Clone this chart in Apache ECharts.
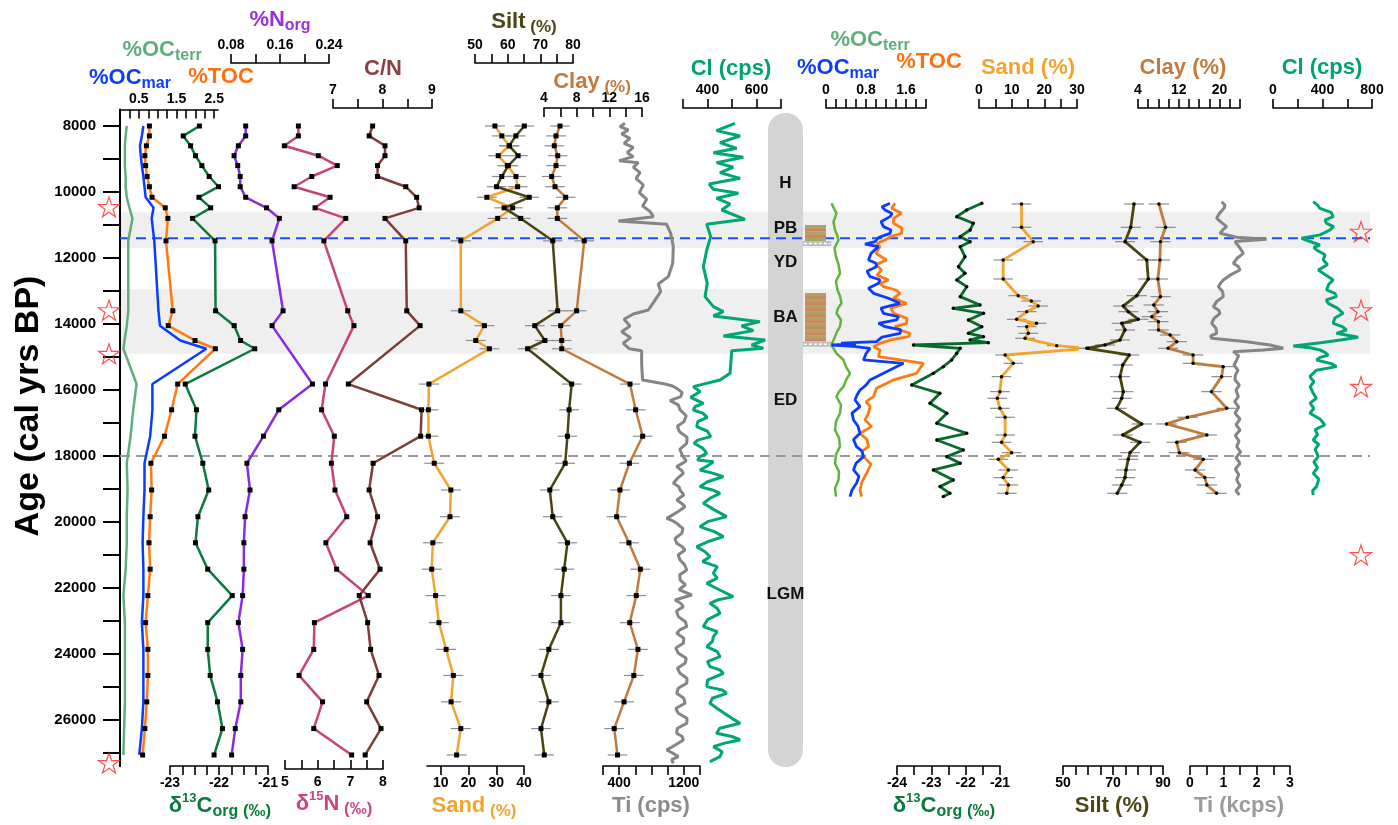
<!DOCTYPE html>
<html>
<head>
<meta charset="utf-8">
<script src="https://cdn.jsdelivr.net/npm/echarts@6/dist/echarts.min.js"></script>
<style>
  html, body { margin: 0; padding: 0; background: #ffffff; }
  #chart { width: 1398px; height: 825px; }
</style>
</head>
<body>
<div id="chart"></div>
<script>
// ---------------- age scale ----------------
const AGE_MIN = 7500, AGE_MAX = 27400;
const ageTicks = [8000, 9000, 10000, 11000, 12000, 13000, 14000, 15000, 16000, 17000, 18000, 19000, 20000, 21000, 22000, 23000, 24000, 25000, 26000, 27000];
const ageLabels = [8000, 10000, 12000, 14000, 16000, 18000, 20000, 22000, 24000, 26000];

// ---------------- core A (left): discrete samples ----------------
const leftAges = [8000, 8300, 8600, 8900, 9200, 9530, 9840, 10160, 10480, 10800, 11480, 13600, 14050, 14500, 14750, 15820, 16600, 17400, 18220, 19030, 19840, 20630, 21430, 22230, 23050, 23860, 24650, 25450, 26260, 27060];
const tocL    = [0.78, 0.78, 0.70, 0.66, 0.68, 0.72, 0.78, 0.85, 1.20, 1.27, 1.22, 1.40, 1.28, 1.99, 2.53, 1.53, 1.37, 1.18, 0.82, 0.84, 0.80, 0.77, 0.80, 0.74, 0.68, 0.74, 0.74, 0.71, 0.66, 0.60];
const ocMarL  = [0.62, 0.58, 0.53, 0.55, 0.58, 0.62, 0.65, 0.68, 0.89, 0.84, 0.91, 1.02, 1.06, 1.60, 2.29, 0.86, 0.86, 0.80, 0.65, 0.65, 0.62, 0.60, 0.62, 0.62, 0.58, 0.62, 0.62, 0.62, 0.58, 0.51];
const ocTerrL = [0.18, 0.15, 0.13, 0.13, 0.13, 0.15, 0.15, 0.18, 0.25, 0.33, 0.22, 0.22, 0.18, 0.12, 0.09, 0.44, 0.35, 0.28, 0.18, 0.20, 0.18, 0.18, 0.15, 0.09, 0.13, 0.13, 0.13, 0.13, 0.11, 0.09];
const d13cL   = [-22.40, -22.73, -22.58, -22.48, -22.35, -22.20, -22.01, -22.41, -22.17, -22.54, -22.08, -22.07, -21.69, -21.56, -21.27, -22.69, -22.46, -22.49, -22.33, -22.21, -22.43, -22.48, -22.23, -21.73, -22.23, -22.23, -22.18, -22.03, -21.93, -22.10];
const sandL   = [29.5, 32.0, 34.7, 30.7, 34.0, 37.1, 37.7, 26.6, 35.9, 30.5, 17.2, 17.2, 25.7, 22.6, 27.5, 5.7, 5.5, 5.5, 7.6, 13.6, 13.3, 7.1, 6.7, 8.1, 9.3, 11.9, 14.5, 13.7, 17.2, 15.7];
const siltL   = [65.1, 62.5, 60.5, 63.2, 60.2, 58.2, 56.6, 66.6, 58.9, 64.0, 73.8, 75.3, 68.3, 71.4, 66.1, 79.6, 78.8, 78.3, 77.6, 72.9, 73.8, 78.3, 77.3, 76.3, 76.3, 72.6, 70.2, 72.6, 70.2, 71.2];
const clayL   = [5.96, 5.47, 5.26, 5.68, 5.47, 4.94, 5.35, 6.66, 5.63, 5.63, 8.93, 8.00, 6.04, 6.17, 6.17, 14.53, 15.22, 16.08, 14.45, 13.3, 12.9, 14.4, 15.8, 15.3, 14.5, 15.5, 15.0, 13.8, 12.6, 13.0];
const sandErrL = 3.6, siltErrL = 3.0, clayErrL = 1.2;

const isoAges = [8000, 8300, 8600, 8900, 9200, 9530, 9840, 10160, 10480, 10800, 11480, 13600, 14050, 15820, 16600, 17400, 18220, 19030, 19840, 20630, 21430, 22230, 23050, 23860, 24650, 25450, 26260, 27060];
const d15nL = [5.41, 5.41, 4.98, 6.02, 6.60, 5.82, 5.28, 6.38, 5.92, 6.86, 6.19, 6.92, 7.11, 6.24, 6.12, 6.51, 6.42, 6.53, 6.89, 6.25, 6.58, 7.55, 5.90, 5.88, 5.43, 6.15, 5.88, 7.04];
const norgL = [0.104, 0.104, 0.092, 0.085, 0.091, 0.095, 0.095, 0.104, 0.138, 0.159, 0.147, 0.165, 0.147, 0.213, 0.158, 0.133, 0.106, 0.111, 0.103, 0.101, 0.101, 0.099, 0.092, 0.099, 0.096, 0.096, 0.087, 0.081];
const cnL   = [7.80, 7.73, 8.05, 8.05, 7.90, 7.90, 8.47, 8.69, 8.74, 8.05, 8.47, 8.49, 8.76, 7.31, 8.79, 8.77, 7.81, 7.73, 7.90, 7.75, 7.95, 7.53, 7.70, 7.76, 7.93, 7.68, 7.97, 7.65];

// ---------------- core A: XRF scans [age, counts] ----------------
const tiL = [[7920,472],[8020,410],[8121,513],[8242,431],[8374,534],[8525,460],[8646,575],[8808,500],[8929,575],[9050,400],[9111,638],[9252,575],[9414,658],[9586,609],[9788,699],[10020,650],[10222,741],[10424,691],[10596,782],[10747,823],[10879,390],[10980,988],[11252,1037],[11656,1070],[12161,1062],[12565,1008],[12787,885],[13020,913],[13353,823],[13575,761],[13696,575],[13858,460],[14060,534],[14232,431],[14414,542],[14585,451],[14747,525],[14808,678],[15192,678],[15697,689],[15818,967],[15880,1060],[15949,1112],[16080,1180],[16201,1161],[16322,1029],[16450,1130],[16605,1153],[16780,1230],[16959,1202],[17100,1120],[17262,1145],[17430,1240],[17615,1236],[17800,1150],[18000,1186],[18150,1230],[18323,1112],[18430,1170],[18525,1194],[18680,1120],[18828,1070],[18930,1140],[19030,1153],[19180,1200],[19333,1112],[19430,1170],[19535,1215],[19700,1120],[19889,988],[19960,1060],[20040,1112],[20200,1190],[20343,1174],[20500,1090],[20646,1112],[20750,1180],[20848,1215],[21000,1130],[21151,1153],[21300,1210],[21454,1236],[21600,1150],[21757,1153],[21900,1220],[22050,1140],[22212,1298],[22363,1091],[22460,1160],[22565,1194],[22700,1110],[22868,1132],[23020,1220],[23171,1236],[23270,1150],[23373,1112],[23520,1200],[23676,1194],[23820,1100],[23979,1132],[24130,1230],[24282,1215],[24430,1120],[24585,1153],[24740,1240],[24888,1236],[25040,1130],[25191,1112],[25340,1200],[25494,1215],[25650,1100],[25797,1132],[25950,1240],[26100,1236],[26250,1120],[26403,1112],[26500,1180],[26605,1194],[26750,1100],[26908,988],[27000,1060],[27110,1132],[27200,1050],[27312,1070]];
const clL = [[7920,512],[8141,437],[8303,533],[8505,451],[8677,519],[8808,424],[8949,546],[9111,437],[9252,505],[9414,451],[9586,533],[9757,407],[9919,424],[10040,526],[10192,437],[10363,492],[10545,458],[10828,553],[10980,397],[11353,413],[11757,397],[12262,383],[12767,399],[13171,390],[13474,424],[13626,465],[13757,424],[13929,614],[14060,539],[14201,587],[14363,465],[14484,635],[14636,580],[14737,628],[14808,499],[15495,492],[15697,451],[15899,342],[16050,370],[16222,331],[16403,383],[16500,350],[16605,342],[16700,380],[16827,399],[16960,360],[17110,356],[17250,400],[17413,413],[17520,360],[17615,345],[17760,380],[17918,397],[18020,370],[18120,359],[18172,424],[18300,400],[18424,369],[18520,420],[18626,465],[18780,400],[18929,369],[19030,420],[19131,451],[19280,410],[19434,383],[19640,430],[19838,478],[19990,400],[20141,369],[20300,430],[20444,465],[20600,400],[20747,356],[20900,390],[21050,410],[21200,380],[21350,440],[21555,424],[21700,440],[21858,397],[22060,450],[22262,505],[22364,440],[22464,410],[22620,440],[22767,451],[22960,400],[23171,383],[23320,440],[23474,424],[23620,420],[23777,397],[23930,440],[24080,451],[24230,400],[24383,410],[24480,450],[24585,465],[24790,400],[24989,397],[25090,460],[25191,478],[25340,420],[25494,410],[25650,440],[25800,470],[25950,500],[26100,533],[26250,450],[26403,437],[26500,500],[26605,533],[26700,470],[26807,424],[26960,460],[27110,451],[27262,410]];

// ---------------- core B (right): [age, value] ----------------
const ocTerrR = [[10343,0.11],[10500,0.16],[10646,0.21],[10900,0.15],[11151,0.18],[11300,0.22],[11454,0.25],[11700,0.17],[11959,0.20],[12200,0.25],[12464,0.28],[12700,0.20],[12969,0.23],[13150,0.28],[13373,0.31],[13520,0.24],[13676,0.21],[13880,0.30],[14080,0.28],[14230,0.22],[14383,0.18],[14636,0.11],[14888,0.21],[15090,0.35],[15300,0.40],[15494,0.48],[15700,0.40],[15898,0.35],[16050,0.26],[16201,0.21],[16450,0.30],[16706,0.28],[16950,0.20],[17211,0.18],[17450,0.26],[17716,0.28],[17950,0.20],[18221,0.18],[18480,0.26],[18726,0.25],[18980,0.18],[19231,0.20]];
const ocMarR = [[10343,1.28],[10450,1.12],[10545,1.18],[10650,1.32],[10747,1.28],[10900,1.10],[11050,1.15],[11150,1.30],[11252,1.28],[11380,1.05],[11505,0.98],[11580,0.78],[11656,1.05],[11860,0.90],[12060,0.85],[12160,1.00],[12262,1.01],[12400,0.82],[12565,0.88],[12660,1.08],[12767,1.05],[12920,0.85],[13070,0.95],[13220,1.25],[13373,1.48],[13520,1.10],[13676,1.15],[13780,1.45],[13878,1.41],[13980,1.05],[14080,1.18],[14180,1.50],[14282,1.48],[14400,1.12],[14535,1.01],[14580,0.30],[14610,0.60],[14636,0.11],[14680,0.55],[14737,0.88],[14900,0.80],[15090,0.75],[15191,1.55],[15393,1.28],[15696,0.88],[15850,0.80],[15999,0.68],[16150,0.62],[16302,0.58],[16504,0.68],[16700,0.52],[16908,0.55],[17100,0.64],[17312,0.68],[17500,0.55],[17716,0.61],[17850,0.72],[18019,0.75],[18220,0.60],[18423,0.55],[18620,0.66],[18827,0.61],[19030,0.52],[19231,0.48]];
const tocR = [[10343,1.38],[10495,1.31],[10646,1.51],[10800,1.35],[10949,1.35],[11100,1.52],[11252,1.51],[11350,1.30],[11454,1.18],[11560,1.02],[11656,1.08],[11860,1.00],[12060,1.21],[12200,1.00],[12363,1.11],[12520,1.02],[12666,1.25],[12770,1.08],[12868,1.15],[12970,1.40],[13070,1.48],[13220,1.35],[13373,1.61],[13520,1.30],[13676,1.35],[13830,1.62],[13979,1.61],[14080,1.38],[14181,1.48],[14280,1.68],[14383,1.65],[14480,1.30],[14585,1.08],[14686,0.95],[14787,1.08],[14989,1.05],[15191,1.95],[15494,1.81],[15696,1.35],[15949,1.01],[16201,0.95],[16350,0.80],[16504,0.88],[16706,0.85],[16900,0.78],[17110,0.91],[17312,0.68],[17500,0.82],[17716,0.85],[17850,0.72],[18019,0.75],[18250,0.90],[18524,0.81],[18780,0.72],[19029,0.68],[19231,0.71]];
const d13cR = [[10343,-21.53],[10545,-21.97],[10747,-22.26],[10949,-21.78],[11151,-21.87],[11353,-22.16],[11505,-21.87],[11656,-22.16],[11959,-22.02],[12262,-22.21],[12464,-22.02],[12666,-22.26],[12868,-21.97],[13171,-22.16],[13424,-21.58],[13525,-22.36],[13676,-21.48],[13878,-21.92],[14080,-21.53],[14282,-21.92],[14383,-21.48],[14484,-21.87],[14565,-21.34],[14636,-23.52],[14737,-22.16],[14888,-22.26],[15090,-22.41],[15292,-22.65],[15494,-22.94],[15848,-23.57],[16100,-22.75],[16403,-23.04],[16706,-22.55],[17009,-22.84],[17312,-21.97],[17514,-22.84],[17817,-22.07],[18019,-22.55],[18221,-22.16],[18423,-22.94],[18726,-22.36],[18928,-22.75],[19130,-22.46],[19231,-22.65]];
const sandR = [[10363,13.0],[11070,13.0],[11505,16.6],[12060,7.4],[12636,7.4],[13141,12.0],[13302,16.0],[13454,18.1],[13626,14.6],[13858,11.5],[13979,17.6],[14080,14.6],[14282,15.1],[14434,14.1],[14656,23.8],[14737,33.4],[14939,8.0],[15191,10.5],[15595,6.9],[16050,6.4],[16252,5.6],[16555,6.4],[16827,8.0],[17363,8.0],[17585,6.9],[17898,10.0],[18100,5.9],[18423,9.0],[18655,7.4],[18878,9.0],[19130,8.5]];
const siltR = [[10363,78.4],[11070,77.1],[11505,74.8],[12060,83.5],[12636,84.1],[13141,79.5],[13454,74.1],[13626,76.1],[13858,80.1],[13979,73.5],[14181,74.8],[14484,72.8],[14636,66.8],[14737,59.5],[14939,76.5],[15242,73.9],[15595,72.8],[16050,74.1],[16252,73.5],[16555,71.5],[17029,81.5],[17363,73.9],[17585,80.8],[17898,76.8],[18100,76.1],[18423,75.2],[18655,74.8],[18878,73.5],[19130,71.7]];
const clayR = [[10363,8.1],[11070,9.4],[11505,8.4],[12060,8.3],[12636,7.9],[13171,8.4],[13424,7.1],[13626,7.9],[13777,6.7],[13929,8.0],[14181,8.0],[14333,10.3],[14535,11.6],[14737,9.9],[14939,14.8],[15191,14.8],[15292,20.7],[15595,20.4],[16050,18.4],[16555,21.4],[16827,13.7],[17029,9.6],[17363,17.5],[17585,11.6],[17898,12.1],[18100,16.8],[18423,15.2],[18655,17.1],[18878,17.5],[19130,19.4]];
const sandErrR = 3.0, siltErrR = 4.0, clayErrR = 2.0;
const tiR = [[10293,0.95],[10400,1.05],[10495,1.02],[10650,0.88],[10798,0.80],[10930,0.95],[11050,1.10],[11150,0.98],[11252,0.90],[11373,1.40],[11434,2.30],[11500,1.35],[11555,1.40],[11700,1.50],[11858,1.60],[12000,1.42],[12161,1.30],[12260,1.45],[12363,1.50],[12520,1.20],[12666,1.00],[12760,0.92],[12868,0.85],[13020,0.98],[13171,1.00],[13320,0.80],[13474,0.70],[13580,0.86],[13676,0.90],[13830,0.72],[13979,0.65],[14130,0.78],[14282,0.80],[14360,0.62],[14434,0.65],[14535,1.70],[14636,2.40],[14737,2.80],[14790,2.20],[14838,1.30],[14960,1.46],[15090,1.40],[15250,1.32],[15400,1.44],[15550,1.36],[15696,1.35],[15850,1.48],[16000,1.38],[16201,1.45],[16350,1.34],[16520,1.46],[16706,1.35],[16880,1.50],[17050,1.38],[17211,1.50],[17380,1.36],[17550,1.47],[17716,1.40],[17880,1.52],[18050,1.38],[18221,1.50],[18400,1.36],[18560,1.46],[18726,1.40],[18900,1.50],[19050,1.38],[19181,1.48]];
const clR = [[10293,325],[10400,360],[10495,379],[10620,470],[10747,486],[10849,420],[10949,433],[11050,490],[11151,460],[11300,380],[11404,231],[11500,300],[11606,379],[11680,330],[11757,352],[11900,420],[12060,406],[12200,440],[12363,366],[12500,420],[12666,486],[12800,450],[12969,433],[13070,500],[13171,513],[13270,430],[13373,446],[13520,520],[13676,567],[13820,500],[13979,486],[14080,560],[14181,594],[14282,513],[14340,600],[14403,688],[14480,560],[14560,400],[14666,164],[14720,300],[14787,379],[14860,420],[14939,446],[15010,380],[15090,352],[15200,470],[15292,513],[15400,350],[15595,298],[15750,330],[15900,300],[16100,325],[16250,350],[16400,300],[16560,330],[16706,298],[16880,380],[17060,419],[17200,340],[17350,360],[17514,325],[17650,370],[17800,340],[18019,366],[18180,330],[18350,360],[18524,325],[18700,370],[18928,352],[19050,320],[19181,325]];

// ---------------- climate stages and markers ----------------
const phaseNames = ['H', 'PB', 'YD', 'BA', 'ED', 'LGM'];
const phaseAges = [9730, 11090, 12120, 13790, 16300, 22180];
const timelineSpan = [7606, 27424];
const shadedIntervals = [[10600, 11700], [12950, 14900]];
const boundaryAges = [11400, 18000];
const laminatedIntervals = [[11000, 11480], [13060, 14520]];
const laminaBaseAges = [11560, 14610];
const datedAgesL = [10450, 13580, 14900, 27300];
const datedAgesR = [11200, 13580, 15900, 21000];

// ---------------- axis ticks / labels ----------------
const ocTicksL = [0, 0.25, 0.5, 0.75, 1, 1.25, 1.5, 1.75, 2, 2.25, 2.5], ocLabelsL = [0.5, 1.5, 2.5];
const norgTicks = [0.08, 0.12, 0.16, 0.2, 0.24], norgLabels = [0.08, 0.16, 0.24];
const cnTicks = [7, 7.5, 8, 8.5, 9], cnLabels = [7, 8, 9];
const siltTicksL = [50, 55, 60, 65, 70, 75, 80], siltLabelsL = [50, 60, 70, 80];
const clayTicksL = [4, 6, 8, 10, 12, 14, 16], clayLabelsL = [4, 8, 12, 16];
const clTicksL = [300, 400, 500, 600, 700], clLabelsL = [400, 600];
const d13cTicksL = [-23, -22.75, -22.5, -22.25, -22, -21.75, -21.5, -21.25, -21], d13cLabelsL = [-23, -22, -21];
const d15nTicks = [5, 5.5, 6, 6.5, 7, 7.5, 8], d15nLabels = [5, 6, 7, 8];
const sandTicksL = [10, 20, 30, 40], sandLabelsL = [10, 20, 30, 40];
const tiTicksL = [200, 400, 600, 800, 1000, 1200, 1400], tiLabelsL = [400, 1200];
const ocTicksR = [0, 0.2, 0.4, 0.6, 0.8, 1, 1.2, 1.4, 1.6, 1.8, 2], ocLabelsR = [0, 0.8, 1.6];
const sandTicksR = [0, 5, 10, 15, 20, 25, 30], sandLabelsR = [0, 10, 20, 30];
const clayTicksR = [4, 6, 8, 10, 12, 14, 16, 18, 20, 22, 24], clayLabelsR = [4, 12, 20];
const clTicksR = [0, 200, 400, 600, 800], clLabelsR = [0, 400, 800];
const d13cTicksR = [-24, -23.5, -23, -22.5, -22, -21.5, -21], d13cLabelsR = [-24, -23, -22, -21];
const siltTicksR = [50, 55, 60, 65, 70, 75, 80, 85, 90], siltLabelsR = [50, 70, 90];
const tiTicksR = [0, 0.5, 1, 1.5, 2, 2.5, 3], tiLabelsR = [0, 1, 2, 3];

// ---------------- layout helpers ----------------
const FONT = '"Liberation Sans", Arial, Helvetica, sans-serif';
const TOP = 109.5, HEIGHT = 656.7, BOT = TOP + HEIGHT;
const grids = [], xAxes = [], yAxes = [], series = [];

function addGrid(left, right) {
  grids.push({ left: left, top: TOP, width: right - left, height: HEIGHT });
  const gi = grids.length - 1;
  yAxes.push({ gridIndex: gi, type: 'value', inverse: true, min: AGE_MIN, max: AGE_MAX, show: false });
  return gi;
}
function addHidden(left, right) {
  const gi = addGrid(left, right);
  xAxes.push({ gridIndex: gi, type: 'value', min: 0, max: 1, show: false });
  return gi;
}
function addAxis(p) {
  const gi = addGrid(p.left, p.right);
  const isTop = p.side === 'top';
  const offset = isTop ? TOP - p.lineY : p.lineY - BOT;
  const inside = isTop ? !p.tickUp : p.tickUp;
  xAxes.push({
    gridIndex: gi, type: 'value', position: p.side, offset: offset, min: p.min, max: p.max,
    axisLine: { show: true, onZero: false, lineStyle: { color: '#000', width: 1.6 } },
    axisTick: { show: true, inside: inside, length: 9, customValues: p.ticks, lineStyle: { color: '#000', width: 1.6 } },
    axisLabel: { show: true, customValues: p.labels, margin: p.margin, color: '#000', fontSize: 14, fontWeight: 'bold', fontFamily: FONT, formatter: v => String(v) },
    splitLine: { show: false }
  });
  return gi;
}
const asPairs = (vals, ages) => ages.map((a, i) => [vals[i], a]);
const flip = arr => arr.map(d => [d[1], d[0]]);

function lineS(gi, data, color, width, marker, z) {
  series.push({
    type: 'line', xAxisIndex: gi, yAxisIndex: gi, data: data,
    symbol: marker || 'none', symbolSize: marker === 'rect' ? 5 : 3.5, showSymbol: !!marker,
    itemStyle: { color: '#000' }, lineStyle: { color: color, width: width },
    z: z || 3, silent: true, clip: false, animation: false
  });
}
function errS(gi, data, err) {
  series.push({
    type: 'custom', xAxisIndex: gi, yAxisIndex: gi, silent: true, clip: false, z: 2,
    data: data.map(d => [d[0], d[1], err]), encode: { x: 0, y: 1 },
    renderItem: (params, api) => {
      const v = api.value(0), a = api.value(1), e = api.value(2);
      const p1 = api.coord([v - e, a]), p2 = api.coord([v + e, a]);
      return { type: 'line', shape: { x1: p1[0], y1: p1[1], x2: p2[0], y2: p2[1] }, style: { stroke: '#8d8d8d', lineWidth: 1.2 } };
    }
  });
}

// ---------------- background: shaded stages, boundaries ----------------
const gBg = addHidden(120, 1370);
series.push({
  type: 'custom', xAxisIndex: gBg, yAxisIndex: gBg, silent: true, z: 0, data: shadedIntervals,
  renderItem: (params, api) => {
    const a = api.coord([0, api.value(0)]), b = api.coord([1, api.value(1)]);
    return { type: 'rect', shape: { x: a[0], y: a[1], width: b[0] - a[0], height: b[1] - a[1] }, style: { fill: '#efefef' } };
  }
});
const boundaryColors = ['#1f4ef5', '#9a9a9a'];
series.push({
  type: 'custom', xAxisIndex: gBg, yAxisIndex: gBg, silent: true, z: 2.5, data: boundaryAges.map((a, i) => [a, i]),
  renderItem: (params, api) => {
    const a = api.coord([0, api.value(0)]), b = api.coord([1, api.value(0)]);
    return { type: 'line', shape: { x1: a[0], y1: a[1], x2: b[0], y2: b[1] }, style: { stroke: boundaryColors[api.value(1)], lineWidth: 2, lineDash: [10, 6] } };
  }
});

// ---------------- core A panels ----------------
const gOcL = addAxis({ left: 120, right: 218, min: 0, max: 2.6, side: 'top', lineY: 109.5, tickUp: false, ticks: ocTicksL, labels: ocLabelsL, margin: 3 });
Object.assign(yAxes[gOcL], {
  show: true, position: 'left',
  axisLine: { show: true, onZero: false, lineStyle: { color: '#000', width: 2 } },
  axisTick: { show: true, inside: false, length: 17, customValues: ageTicks, lineStyle: { color: '#000', width: 2 } },
  axisLabel: { show: true, customValues: ageLabels, margin: 24, color: '#000', fontSize: 15, fontWeight: 'bold', fontFamily: FONT, formatter: v => String(v) },
  splitLine: { show: false }
});
const gNorg = addAxis({ left: 231, right: 329, min: 0.08, max: 0.24, side: 'top', lineY: 63, tickUp: true, ticks: norgTicks, labels: norgLabels, margin: 11 });
const gCn = addAxis({ left: 333, right: 432, min: 7, max: 9, side: 'top', lineY: 108, tickUp: true, ticks: cnTicks, labels: cnLabels, margin: 11 });
const gD13L = addAxis({ left: 170, right: 268, min: -23, max: -21, side: 'bottom', lineY: 766, tickUp: false, ticks: d13cTicksL, labels: d13cLabelsL, margin: 10 });
const gD15 = addAxis({ left: 285, right: 383, min: 5, max: 8, side: 'bottom', lineY: 769, tickUp: true, ticks: d15nTicks, labels: d15nLabels, margin: 6 });
const gSandL = addAxis({ left: 427, right: 524, min: 5, max: 40, side: 'bottom', lineY: 766, tickUp: false, ticks: sandTicksL, labels: sandLabelsL, margin: 10 });
const gSiltL = addAxis({ left: 475, right: 573, min: 50, max: 80, side: 'top', lineY: 63, tickUp: true, ticks: siltTicksL, labels: siltLabelsL, margin: 11 });
const gClayL = addAxis({ left: 544, right: 642, min: 4, max: 16, side: 'top', lineY: 108, tickUp: false, ticks: clayTicksL, labels: clayLabelsL, margin: 3 });
const gTiL = addAxis({ left: 603, right: 700, min: 200, max: 1400, side: 'bottom', lineY: 766, tickUp: false, ticks: tiTicksL, labels: tiLabelsL, margin: 10 });
const gClL = addAxis({ left: 683, right: 781, min: 300, max: 700, side: 'top', lineY: 108, tickUp: true, ticks: clTicksL, labels: clLabelsL, margin: 11 });

lineS(gOcL, asPairs(ocTerrL, leftAges), '#62ad7c', 2.5);
lineS(gOcL, asPairs(ocMarL, leftAges), '#0a3cff', 2.5);
lineS(gOcL, asPairs(tocL, leftAges), '#ff7a10', 2.5, 'rect');
lineS(gD13L, asPairs(d13cL, leftAges), '#0b7a3c', 2.5, 'rect');
lineS(gNorg, asPairs(norgL, isoAges), '#8a2be2', 2.5, 'rect');
lineS(gD15, asPairs(d15nL, isoAges), '#c8427c', 2.5, 'rect');
lineS(gCn, asPairs(cnL, isoAges), '#7f3d38', 2.5, 'rect');
errS(gSandL, asPairs(sandL, leftAges), sandErrL);
errS(gSiltL, asPairs(siltL, leftAges), siltErrL);
errS(gClayL, asPairs(clayL, leftAges), clayErrL);
lineS(gSandL, asPairs(sandL, leftAges), '#f0a52e', 2.5, 'rect');
lineS(gSiltL, asPairs(siltL, leftAges), '#4a4510', 2.5, 'rect');
lineS(gClayL, asPairs(clayL, leftAges), '#c07a3c', 2.5, 'rect');
lineS(gTiL, flip(tiL), '#858585', 3);
lineS(gClL, flip(clL), '#00a676', 3);

// ---------------- stage bar ----------------
const gBar = addHidden(768, 803);
series.push({
  type: 'custom', xAxisIndex: gBar, yAxisIndex: gBar, silent: true, z: 1, data: [timelineSpan],
  renderItem: (params, api) => {
    const a = api.coord([0, api.value(0)]), b = api.coord([1, api.value(1)]);
    return { type: 'rect', shape: { x: a[0], y: a[1], width: b[0] - a[0], height: b[1] - a[1], r: 17 }, style: { fill: '#d4d4d4' } };
  }
});
series.push({
  type: 'custom', xAxisIndex: gBar, yAxisIndex: gBar, silent: true, z: 4, data: phaseAges.map((a, i) => [a, i]),
  renderItem: (params, api) => {
    const p = api.coord([0.5, api.value(0)]);
    return { type: 'text', x: p[0], y: p[1], style: { text: phaseNames[api.value(1)], fill: '#111', font: 'bold 17px ' + FONT, textAlign: 'center', textVerticalAlign: 'middle' } };
  }
});

// ---------------- laminated intervals of core B ----------------
const gLam = addHidden(805, 826);
series.push({
  type: 'custom', xAxisIndex: gLam, yAxisIndex: gLam, silent: true, z: 3, data: laminatedIntervals,
  renderItem: (params, api) => {
    const a = api.coord([0, api.value(0)]), b = api.coord([1, api.value(1)]);
    const kids = [];
    const h = b[1] - a[1];
    const n = Math.max(2, Math.round(h / 3));
    for (let k = 0; k < n; k++) {
      kids.push({ type: 'rect', shape: { x: a[0], y: a[1] + k * h / n, width: b[0] - a[0], height: h / n + 0.3 }, style: { fill: k % 2 ? '#c88a5a' : '#a9a56a' } });
    }
    return { type: 'group', children: kids };
  }
});
series.push({
  type: 'custom', xAxisIndex: gLam, yAxisIndex: gLam, silent: true, z: 3, data: laminaBaseAges.map(a => [a]),
  renderItem: (params, api) => {
    const a = api.coord([-0.1, api.value(0)]), b = api.coord([1.25, api.value(0)]);
    return { type: 'group', children: [
      { type: 'rect', shape: { x: a[0], y: a[1] - 2.5, width: b[0] - a[0], height: 5 }, style: { fill: '#bdbdbd' } },
      { type: 'line', shape: { x1: a[0] + 1, y1: a[1], x2: b[0] - 1, y2: b[1] }, style: { stroke: '#ffffff', lineWidth: 1.5, lineDash: [3, 2] } }
    ] };
  }
});

// ---------------- core B panels ----------------
const gOcR = addAxis({ left: 826, right: 926, min: 0, max: 2, side: 'top', lineY: 108, tickUp: true, ticks: ocTicksR, labels: ocLabelsR, margin: 11 });
const gD13R = addAxis({ left: 897, right: 1000, min: -24, max: -21, side: 'bottom', lineY: 766, tickUp: false, ticks: d13cTicksR, labels: d13cLabelsR, margin: 10 });
const gSandR = addAxis({ left: 979, right: 1077, min: 0, max: 30, side: 'top', lineY: 108, tickUp: true, ticks: sandTicksR, labels: sandLabelsR, margin: 11 });
const gSiltR = addAxis({ left: 1063, right: 1163, min: 50, max: 90, side: 'bottom', lineY: 766, tickUp: false, ticks: siltTicksR, labels: siltLabelsR, margin: 10 });
const gClayR = addAxis({ left: 1138, right: 1240, min: 4, max: 24, side: 'top', lineY: 108, tickUp: true, ticks: clayTicksR, labels: clayLabelsR, margin: 11 });
const gTiR = addAxis({ left: 1190, right: 1290, min: 0, max: 3, side: 'bottom', lineY: 766, tickUp: false, ticks: tiTicksR, labels: tiLabelsR, margin: 10 });
const gClR = addAxis({ left: 1273, right: 1372, min: 0, max: 800, side: 'top', lineY: 108, tickUp: true, ticks: clTicksR, labels: clLabelsR, margin: 11 });

lineS(gOcR, flip(ocTerrR), '#66b23e', 2.5);
lineS(gOcR, flip(tocR), '#ff7a10', 2.8);
lineS(gOcR, flip(ocMarR), '#0a3cff', 2.8);
lineS(gD13R, flip(d13cR), '#0a6a2c', 2.8, 'circle');
errS(gSandR, flip(sandR), sandErrR);
errS(gSiltR, flip(siltR), siltErrR);
errS(gClayR, flip(clayR), clayErrR);
lineS(gSandR, flip(sandR), '#f0a52e', 2.8, 'circle');
lineS(gSiltR, flip(siltR), '#4a4510', 2.8, 'circle');
lineS(gClayR, flip(clayR), '#c07a3c', 2.8, 'circle');
lineS(gTiR, flip(tiR), '#858585', 3);
lineS(gClR, flip(clR), '#00a676', 3);

// ---------------- dated levels ----------------
const STAR = 'path://M50,0 L61.2,34.5 L97.6,34.5 L68.2,55.9 L79.4,90.5 L50,69.1 L20.6,90.5 L31.8,55.9 L2.4,34.5 L38.8,34.5 Z';
function stars(left, right, ages) {
  const gi = addHidden(left, right);
  series.push({
    type: 'scatter', xAxisIndex: gi, yAxisIndex: gi, silent: true, z: 5, clip: false,
    data: ages.map(a => [0.5, a]), symbol: STAR, symbolSize: 21, symbolKeepAspect: true,
    itemStyle: { color: 'rgba(255,255,255,0)', borderColor: '#ff2424', borderWidth: 1.2 }
  });
}
stars(99, 119, datedAgesL);
stars(1351, 1371, datedAgesR);

// ---------------- titles ----------------
function title(cx, cy, color, tokens) {
  const base = { fontWeight: 'bold', fontFamily: FONT, fill: color, color: color };
  const rich = {
    big: Object.assign({ fontSize: 22, lineHeight: 28, verticalAlign: 'middle' }, base),
    sub: Object.assign({ fontSize: 16, lineHeight: 16, verticalAlign: 'bottom' }, base),
    sup: Object.assign({ fontSize: 13, lineHeight: 13, verticalAlign: 'top' }, base),
    unit: Object.assign({ fontSize: 17, lineHeight: 23, verticalAlign: 'bottom' }, base)
  };
  return {
    type: 'text', x: cx, y: cy, silent: true, z: 10,
    style: { text: tokens.map(t => '{' + t[1] + '|' + t[0] + '}').join(''), rich: rich, textAlign: 'center', textVerticalAlign: 'middle', fill: color }
  };
}
const graphics = [
  title(280, 20, '#9b30d9', [['%N', 'big'], ['org', 'sub']]),
  title(162, 50, '#5eae7a', [['%OC', 'big'], ['terr', 'sub']]),
  title(130, 78, '#0f3cf5', [['%OC', 'big'], ['mar', 'sub']]),
  title(221, 77, '#ff6f0f', [['%TOC', 'big']]),
  title(383, 69, '#8b3f3f', [['C/N', 'big']]),
  title(524, 22, '#4b4712', [['Silt', 'big'], [' (%)', 'unit']]),
  title(592, 82, '#c27b3c', [['Clay', 'big'], [' (%)', 'unit']]),
  title(731, 69, '#00a36f', [['Cl (cps)', 'big']]),
  title(220, 806, '#0a7a3a', [['δ', 'big'], ['13', 'sup'], ['C', 'big'], ['org', 'sub'], [' (‰)', 'unit']]),
  title(334, 804, '#cc4582', [['δ', 'big'], ['15', 'sup'], ['N', 'big'], [' (‰)', 'unit']]),
  title(474, 806, '#f0a52e', [['Sand', 'big'], [' (%)', 'unit']]),
  title(651, 806, '#8c8c8c', [['Ti (cps)', 'big']]),
  title(870, 40, '#5eae7a', [['%OC', 'big'], ['terr', 'sub']]),
  title(838, 68, '#0f3cf5', [['%OC', 'big'], ['mar', 'sub']]),
  title(929, 62, '#ff6f0f', [['%TOC', 'big']]),
  title(1028, 68, '#f0a52e', [['Sand (%)', 'big']]),
  title(1183, 68, '#c27b3c', [['Clay (%)', 'big']]),
  title(1322, 68, '#00a36f', [['Cl (cps)', 'big']]),
  title(944, 806, '#0a7a3a', [['δ', 'big'], ['13', 'sup'], ['C', 'big'], ['org', 'sub'], [' (‰)', 'unit']]),
  title(1112, 806, '#4b4712', [['Silt (%)', 'big']]),
  title(1239, 806, '#9a9a9a', [['Ti (kcps)', 'big']]),
  {
    type: 'text', x: 29, y: 406, rotation: Math.PI / 2, silent: true,
    style: { text: 'Age (cal yrs BP)', font: 'bold 34px ' + FONT, fill: '#000', textAlign: 'center', textVerticalAlign: 'middle' }
  }
];

const chart = echarts.init(document.getElementById('chart'), null, { renderer: 'canvas' });
chart.setOption({
  animation: false,
  backgroundColor: '#ffffff',
  grid: grids,
  xAxis: xAxes,
  yAxis: yAxes,
  series: series,
  graphic: graphics
});
</script>
</body>
</html>
